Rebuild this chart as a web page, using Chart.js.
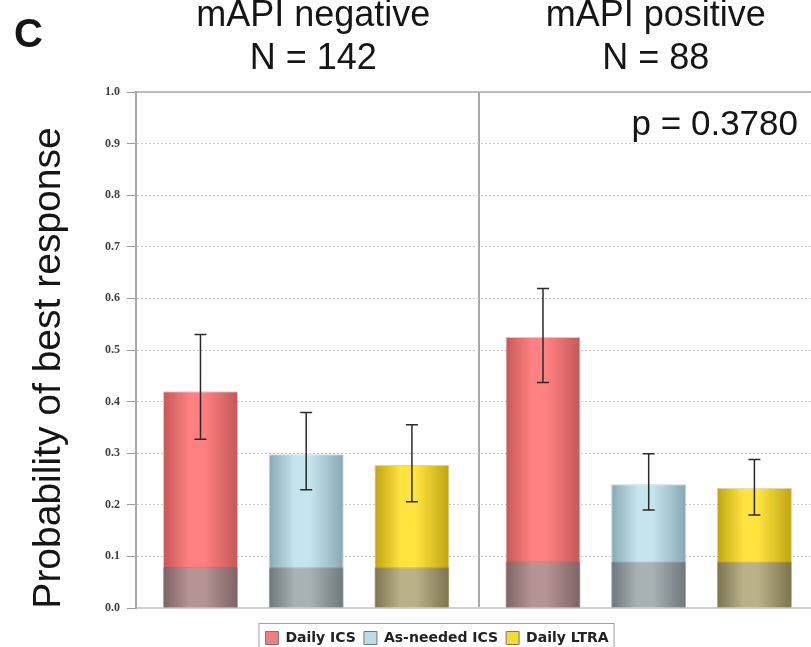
<!DOCTYPE html>
<html>
<head>
<meta charset="utf-8">
<script src="https://cdn.jsdelivr.net/npm/chart.js@4.4.1/dist/chart.umd.min.js"></script>
<style>
  html, body { margin: 0; padding: 0; background: #fff; overflow: hidden; }
  #wrap { position: relative; width: 822px; height: 647px; }
</style>
</head>
<body>
<div id="wrap"><canvas id="resposta"></canvas></div>
<script>
// valores
const groups = ["mAPI negative", "mAPI positive"];
const groupN = ["N = 142", "N = 88"];
const treatments = ["Daily ICS", "As-needed ICS", "Daily LTRA"];

const dailyICS = [0.420, 0.525];
const asNeededICS = [0.298, 0.240];
const dailyLTRA = [0.277, 0.233];

const dailyICSLow = [0.327, 0.437];
const dailyICSHigh = [0.530, 0.619];
const asNeededICSLow = [0.229, 0.190];
const asNeededICSHigh = [0.379, 0.299];
const dailyLTRALow = [0.206, 0.180];
const dailyLTRAHigh = [0.355, 0.288];

// parte escura na base das barras
const baseline = [0.079, 0.090];

const yTicks = [0.0, 0.1, 0.2, 0.3, 0.4, 0.5, 0.6, 0.7, 0.8, 0.9, 1.0];
const yTitle = "Probability of best response";
const pValue = "p = 0.3780";
const panelLetter = "C";

const values = [dailyICS, asNeededICS, dailyLTRA];
const lows = [dailyICSLow, asNeededICSLow, dailyLTRALow];
const highs = [dailyICSHigh, asNeededICSHigh, dailyLTRAHigh];

// layout em unidades do eixo x (1 unidade = distância entre barras)
const PANEL = 3.24;
const FIRST = 0.61;
const BAR_W = 0.71;
const xPos = (g, t) => g * PANEL + FIRST + t;

const fills = [
  { mid: "#ff8080", edge: "#c45858", dmid: "#b59495", dedge: "#7e6364", legend: "#f47c7c" },
  { mid: "#c4e4ee", edge: "#88a8b3", dmid: "#a8b1b4", dedge: "#6e777a", legend: "#bcdce7" },
  { mid: "#ffe440", edge: "#c0a312", dmid: "#b9b188", dedge: "#7a744f", legend: "#f7da36" },
];

const shade = (pick) => (ctx) => {
  const fallback = pick(ctx.datasetIndex < 3 ? ctx.datasetIndex : 0).mid;
  if (ctx.type !== "data" || !ctx.raw) return fallback;
  const xs = ctx.chart.scales.x;
  if (!xs) return fallback;
  const c = pick(ctx.datasetIndex < 3 ? ctx.datasetIndex : ctx.dataIndex % 3);
  const cx = xs.getPixelForValue(ctx.raw.x);
  const half = xs.getPixelForValue(ctx.raw.x + BAR_W / 2) - cx;
  const g = ctx.chart.ctx.createLinearGradient(cx - half, 0, cx + half, 0);
  g.addColorStop(0, c.edge);
  g.addColorStop(0.35, c.mid);
  g.addColorStop(0.55, c.mid);
  g.addColorStop(1, c.edge);
  return g;
};

const datasets = treatments.map((name, t) => ({
  label: name,
  data: groups.map((_, g) => ({ x: xPos(g, t), y: values[t][g] })),
  backgroundColor: shade((i) => ({ mid: fills[i].mid, edge: fills[i].edge })),
  borderColor: "rgba(0,0,0,0.18)",
  borderWidth: 1,
}));

datasets.push({
  label: "baseline",
  order: -1,
  data: groups.flatMap((_, g) => treatments.map((__, t) => ({ x: xPos(g, t), y: baseline[g] }))),
  backgroundColor: shade((i) => ({ mid: fills[i].dmid, edge: fills[i].dedge })),
  borderColor: "rgba(0,0,0,0.18)",
  borderWidth: 1,
});

// barras de erro, textos e moldura da legenda
const extras = {
  id: "extras",
  beforeDatasetsDraw(chart) {
    const { ctx, chartArea } = chart;
    ctx.save();
    ctx.strokeStyle = "#a8a8a8";
    ctx.lineWidth = 1.5;
    ctx.beginPath();
    ctx.moveTo(chartArea.left, chartArea.top);
    ctx.lineTo(chartArea.right, chartArea.top);
    ctx.stroke();
    ctx.restore();
  },
  afterDatasetsDraw(chart) {
    const { ctx, scales } = chart;
    ctx.save();
    ctx.strokeStyle = "#2a2a2a";
    ctx.lineWidth = 1.5;
    treatments.forEach((_, t) => {
      groups.forEach((__, g) => {
        const x = scales.x.getPixelForValue(xPos(g, t));
        const y1 = scales.y.getPixelForValue(lows[t][g]);
        const y2 = scales.y.getPixelForValue(highs[t][g]);
        ctx.beginPath();
        ctx.moveTo(x, y1); ctx.lineTo(x, y2);
        ctx.moveTo(x - 6, y1); ctx.lineTo(x + 6, y1);
        ctx.moveTo(x - 6, y2); ctx.lineTo(x + 6, y2);
        ctx.stroke();
      });
    });
    ctx.restore();
  },
  afterDraw(chart) {
    const { ctx, scales } = chart;
    ctx.save();
    ctx.fillStyle = "#151515";
    ctx.textAlign = "center";
    ctx.textBaseline = "alphabetic";
    ctx.font = '36px "Liberation Sans", Arial, sans-serif';
    groups.forEach((name, g) => {
      const cx = scales.x.getPixelForValue(g * PANEL + PANEL / 2) + 6;
      ctx.fillText(name, cx, 26);
      ctx.fillText(groupN[g], cx, 69);
    });
    ctx.font = '35px "Liberation Sans", Arial, sans-serif';
    ctx.textAlign = "right";
    ctx.fillText(pValue, 798, 135);
    ctx.textAlign = "left";
    ctx.font = 'bold 40px "Liberation Sans", Arial, sans-serif';
    ctx.fillText(panelLetter, 14, 47);

    // título do eixo y
    ctx.save();
    ctx.translate(60, 368);
    ctx.rotate(-Math.PI / 2);
    ctx.textAlign = "center";
    ctx.font = '39px "Liberation Sans", Arial, sans-serif';
    ctx.fillText(yTitle, 0, 0);
    ctx.restore();

    // moldura da legenda
    const boxes = chart.legend.legendHitBoxes;
    if (boxes && boxes.length) {
      const left = Math.min(...boxes.map(b => b.left)) - 7;
      const right = Math.max(...boxes.map(b => b.left + b.width)) + 5;
      const top = boxes[0].top - 8;
      ctx.strokeStyle = "#a0a0a0";
      ctx.lineWidth = 1;
      ctx.strokeRect(left + 0.5, top + 0.5, right - left, 40);
    }
    ctx.restore();
  },
};

new Chart(document.getElementById("resposta"), {
  type: "bar",
  data: { datasets },
  options: {
    responsive: true,
    maintainAspectRatio: false,
    animation: false,
    grouped: false,
    barPercentage: BAR_W,
    categoryPercentage: 1.0,
    layout: { padding: { left: 53, right: 1, top: 92, bottom: -8 } },
    scales: {
      x: {
        type: "linear",
        min: 0,
        max: 2 * PANEL,
        offset: false,
        afterBuildTicks: (scale) => { scale.ticks = [0, PANEL, 2 * PANEL].map(value => ({ value })); },
        afterFit: (scale) => { scale.height = 15; },
        ticks: { display: false },
        grid: { color: "#a8a8a8", lineWidth: 2, drawTicks: false, offset: false },
        border: { color: "#cfcfcf", width: 2 },
      },
      y: {
        min: 0,
        max: 1,
        afterBuildTicks: (scale) => { scale.ticks = yTicks.map(value => ({ value })); },
        afterFit: (scale) => { scale.width = 83; },
        ticks: {
          padding: 7,
          color: "#404040",
          font: { family: '"Liberation Serif", serif', size: 12, weight: "bold" },
          callback: (v) => Number(v).toFixed(1),
        },
        grid: { color: "#cdcdcd", lineWidth: 1, tickColor: "#9a9a9a", tickLength: 9 },
        border: { color: "#a8a8a8", width: 2, dash: [2, 2] },
      },
    },
    plugins: {
      tooltip: { enabled: false },
      legend: {
        position: "bottom",
        labels: {
          generateLabels: () => treatments.map((name, t) => ({
            text: name,
            datasetIndex: t,
            fillStyle: fills[t].legend,
            strokeStyle: "#777",
            lineWidth: 1,
            fontColor: "#222",
          })),
          boxWidth: 13,
          boxHeight: 13,
          padding: 8,
          color: "#222",
          font: { family: '"DejaVu Sans", sans-serif', size: 14, weight: "bold" },
        },
      },
    },
  },
  plugins: [extras],
});
</script>
</body>
</html>
